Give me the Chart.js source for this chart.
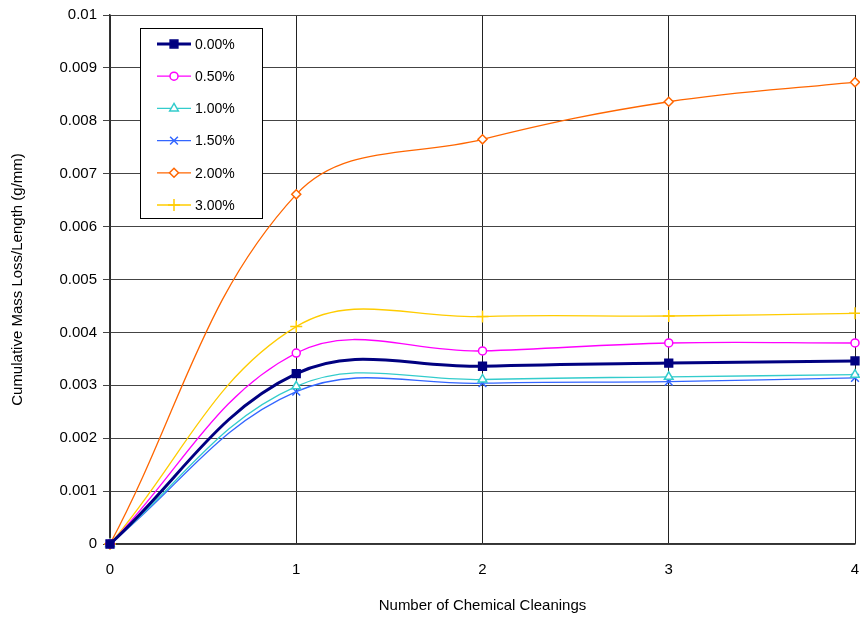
<!DOCTYPE html>
<html>
<head>
<meta charset="utf-8">
<script src="https://cdn.jsdelivr.net/npm/chart.js@4/dist/chart.umd.min.js"></script>
<style>
  html, body { margin: 0; padding: 0; background: #fff; }
  #wrap { width: 860px; height: 623px; }
</style>
</head>
<body>
<div id="wrap"><canvas id="chart" width="860" height="623"></canvas></div>
<script>
// number of cleanings on the x axis
const cleanings = ["0", "1", "2", "3", "4"];

// cumulative mass loss per length (g/mm)
const pct000 = [0, 0.00322, 0.00336, 0.00342, 0.00346];
const pct050 = [0, 0.00361, 0.00365, 0.00380, 0.00380];
const pct100 = [0, 0.00298, 0.00311, 0.00316, 0.00320];
const pct150 = [0, 0.00288, 0.00304, 0.00307, 0.00314];
const pct200 = [0, 0.00661, 0.00765, 0.00836, 0.00873];
const pct300 = [0, 0.00411, 0.00430, 0.00431, 0.00436];

const seriesNames = ["0.00%", "0.50%", "1.00%", "1.50%", "2.00%", "3.00%"];
const yTicks = [0, 0.001, 0.002, 0.003, 0.004, 0.005, 0.006, 0.007, 0.008, 0.009, 0.01];

const FONT = "'Liberation Sans', Arial, sans-serif";

function ds(label, data, color, style, radius, fill, width){
  return {
    label, data,
    borderColor: color,
    borderWidth: width,
    pointStyle: style,
    pointRadius: radius,
    pointHoverRadius: radius,
    pointBackgroundColor: fill,
    pointBorderColor: color,
    pointBorderWidth: 1.5,
    tension: 0.38,
    fill: false,
    clip: 8
  };
}

const datasets = [
  ds(seriesNames[0], pct000, "#000080", "rect", 5.5, "#000080", 3),
  ds(seriesNames[1], pct050, "#FF00FF", "circle", 4, "#ffffff", 1.3),
  ds(seriesNames[2], pct100, "#33CCCC", "triangle", 5, "#ffffff", 1.3),
  ds(seriesNames[3], pct150, "#3366FF", "crossRot", 5.5, "#3366FF", 1.3),
  ds(seriesNames[4], pct200, "#FF6600", "rectRot", 4.5, "#ffffff", 1.3),
  ds(seriesNames[5], pct300, "#FFCC00", "cross", 6, "#FFCC00", 1.3)
];

// legend drawn as a boxed list with line + marker samples
const boxLegend = {
  id: "boxLegend",
  afterDraw(chart){
    const ctx = chart.ctx;
    const x0 = 140.5, y0 = 28.5, w = 122, h = 190;
    ctx.save();
    ctx.fillStyle = "#fff";
    ctx.fillRect(x0, y0, w, h);
    ctx.strokeStyle = "#000";
    ctx.lineWidth = 1;
    ctx.strokeRect(x0, y0, w, h);
    ctx.font = "14px " + FONT;
    ctx.textBaseline = "middle";
    chart.data.datasets.forEach((d, i)=>{
      const y = 44 + i * 32.2;
      ctx.strokeStyle = d.borderColor;
      ctx.lineWidth = d.borderWidth;
      ctx.beginPath();
      ctx.moveTo(157, y);
      ctx.lineTo(191, y);
      ctx.stroke();
      ctx.fillStyle = d.pointBackgroundColor;
      ctx.strokeStyle = d.pointBorderColor;
      ctx.lineWidth = d.pointBorderWidth;
      Chart.helpers.drawPoint(ctx, { pointStyle: d.pointStyle, radius: d.pointRadius, borderWidth: d.pointBorderWidth }, 174, y);
      ctx.fillStyle = "#000";
      ctx.fillText(d.label, 195, y + 1);
    });
    ctx.restore();
  }
};

new Chart(document.getElementById("chart"), {
  type: "line",
  data: { labels: cleanings, datasets },
  options: {
    responsive: false,
    animation: false,
    events: [],
    layout: { autoPadding: false, padding: { top: 15, right: 5, left: 0, bottom: 0 } },
    plugins: {
      legend: { display: false },
      tooltip: { enabled: false }
    },
    scales: {
      x: {
        offset: false,
        grid: { color: "#222", lineWidth: 1, tickLength: 0, drawTicks: false },
        border: { color: "#333", width: 1.5 },
        ticks: { color: "#000", font: { family: FONT, size: 15 }, padding: 17, maxRotation: 0 },
        title: { display: true, text: "Number of Chemical Cleanings", color: "#000",
                 font: { family: FONT, size: 15 }, padding: { top: 0, bottom: 8 } },
        afterFit(s){ s.height = 79; s.paddingLeft = 0; s.paddingRight = 0; }
      },
      y: {
        min: 0, max: 0.01,
        afterBuildTicks(s){ s.ticks = yTicks.map(v=>({ value: v })); },
        grid: { color: "#444", lineWidth: 1, tickLength: 7 },
        border: { color: "#333", width: 1.5 },
        ticks: { color: "#000", font: { family: FONT, size: 15 }, padding: 6,
                 callback: v => String(Number(v.toFixed(3))) },
        title: { display: true, text: "Cumulative Mass Loss/Length (g/mm)", color: "#000",
                 font: { family: FONT, size: 15 }, padding: { top: 9, bottom: 0 } },
        afterFit(s){ s.width = 110; s.paddingTop = 0; s.paddingBottom = 0; }
      }
    }
  },
  plugins: [boxLegend]
});
</script>
</body>
</html>
